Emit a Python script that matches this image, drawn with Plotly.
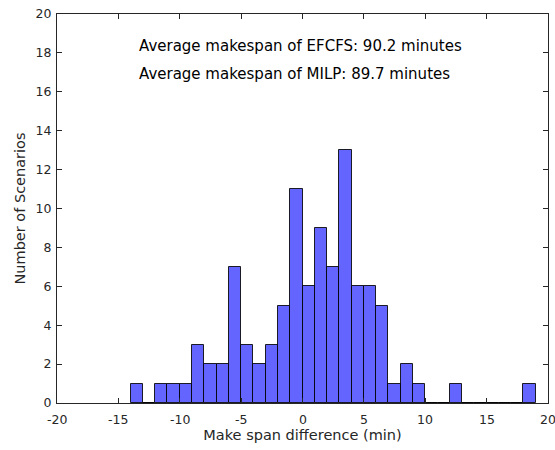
import plotly.graph_objects as go

bin_left = list(range(-14, 19))
counts = [1, 0, 1, 1, 1, 3, 2, 2, 7, 3, 2, 3, 5, 11, 6, 9, 7, 13, 6, 6, 5, 1, 2, 1, 0, 0, 1, 0, 0, 0, 0, 0, 1]
bin_width = 1
x_ticks = [-20, -15, -10, -5, 0, 5, 10, 15, 20]
y_ticks = [0, 2, 4, 6, 8, 10, 12, 14, 16, 18, 20]
notes = ["Average makespan of EFCFS: 90.2 minutes", "Average makespan of MILP: 89.7 minutes"]

centers = [b + bin_width / 2 for b in bin_left]

fig = go.Figure()
fig.add_trace(go.Bar(
    x=centers, y=counts, width=bin_width,
    marker=dict(color="#6464FF", line=dict(color="rgba(0,0,0,0.85)", width=1)),
))

fontfam = "DejaVu Sans, sans-serif"
axcol = "#262626"
common = dict(showline=True, linecolor=axcol, linewidth=1, mirror="allticks",
              ticks="inside", ticklen=5, tickcolor=axcol, showgrid=False, zeroline=False,
              tickfont=dict(family=fontfam, size=12.5, color=axcol))
# x tick labels are drawn as text below (so the edge label "20" is not dropped)
fig.update_xaxes(range=[-20, 20], tickvals=x_ticks, showticklabels=False, automargin=False,
                 title=dict(text="Make span difference (min)", font=dict(family=fontfam, size=14.5, color=axcol), standoff=26),
                 **common)
fig.update_yaxes(range=[0, 20], tickvals=y_ticks, automargin=False,
                 ticklabelstandoff=2,
                 title=dict(text="Number of Scenarios", font=dict(family=fontfam, size=14.5, color=axcol), standoff=6),
                 **common)

for v in x_ticks:
    fig.add_annotation(x=v, xref="x", y=0, yref="paper", text=str(v), showarrow=False,
                       xanchor="center", yanchor="middle", yshift=-16,
                       font=dict(family=fontfam, size=12.5, color=axcol))

for i, t in enumerate(notes):
    fig.add_annotation(x=-13.5, y=[18.35, 16.9][i], text=t, showarrow=False, xanchor="left", yanchor="middle",
                       font=dict(family=fontfam, size=15, color="black"))

fig.update_layout(width=555, height=450, margin=dict(l=57, r=7, t=14, b=47),
                  plot_bgcolor="white", paper_bgcolor="white", showlegend=False, bargap=0)
fig.write_html("out.html")
